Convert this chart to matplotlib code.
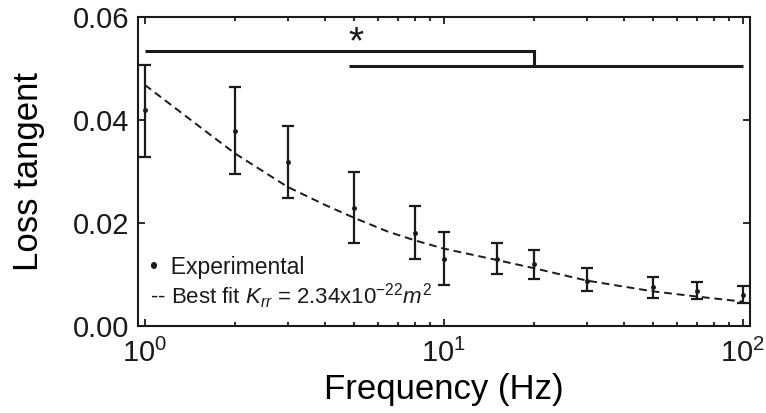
import numpy as np
import matplotlib
import matplotlib.pyplot as plt
from matplotlib.ticker import LogLocator, FixedLocator, NullFormatter

matplotlib.use("Agg")

plt.rcParams["font.family"] = ["Liberation Sans", "DejaVu Sans"]
plt.rcParams["mathtext.fontset"] = "custom"
plt.rcParams["mathtext.rm"] = "Liberation Sans"
plt.rcParams["mathtext.it"] = "Liberation Sans:italic"

# measured points
freq = [1, 2, 3, 5, 8, 10, 15, 20, 30, 50, 70, 100]
loss = [0.0419, 0.0379, 0.0318, 0.0229, 0.0181, 0.0130, 0.0130, 0.0120, 0.0087, 0.0076, 0.0068, 0.0060]
err_hi = [0.0507, 0.0464, 0.0388, 0.0299, 0.0233, 0.0183, 0.0161, 0.0148, 0.0113, 0.0095, 0.0085, 0.0078]
err_lo = [0.0328, 0.0295, 0.0249, 0.0161, 0.0130, 0.0080, 0.0101, 0.0091, 0.0068, 0.0054, 0.0052, 0.0045]

# best fit curve
fit_freq = [1, 1.5, 2, 3, 4, 5, 6.5, 8, 10, 15, 20, 30, 50, 70, 100]
fit_loss = [0.0468, 0.0390, 0.0335, 0.0270, 0.0235, 0.0210, 0.0183, 0.0166, 0.0150, 0.0128, 0.0112, 0.0088, 0.0067, 0.0057, 0.0047]

# significance brackets
bar1_x = [1, 20]
bar1_y = 0.0533
bar2_x = [4.8, 100]
bar2_y = 0.0504
star_x = 5.1
star_y = 0.0548

fig = plt.figure(figsize=(7.66, 4.13), dpi=100)
ax = fig.add_axes([0.180, 0.211, 0.799, 0.748])

loss_a = np.array(loss)
yerr = [loss_a - np.array(err_lo), np.array(err_hi) - loss_a]
ax.errorbar(freq, loss, yerr=yerr, fmt="o", color="#1a1a1a", ms=2.5,
            elinewidth=1.6, capsize=4.5, capthick=1.6)
ax.plot(fit_freq, fit_loss, color="#1a1a1a", lw=1.4, ls=(0, (4, 2.5)))

ax.plot(bar1_x, [bar1_y, bar1_y], color="#1a1a1a", lw=2.2, solid_capstyle="butt")
ax.plot([bar1_x[1], bar1_x[1]], [bar1_y, bar2_y], color="#1a1a1a", lw=2.2)
ax.plot(bar2_x, [bar2_y, bar2_y], color="#1a1a1a", lw=2.2, solid_capstyle="butt")
ax.text(star_x, star_y, "*", fontsize=28, ha="center", va="center", color="#1a1a1a")

ax.set_xscale("log")
ax.set_xlim(0.948, 105.5)
ax.set_ylim(0, 0.06)
ax.set_yticks([0.00, 0.02, 0.04, 0.06])
ax.set_yticklabels(["0.00", "0.02", "0.04", "0.06"])
ax.xaxis.set_major_locator(FixedLocator([1, 10, 100]))
ax.set_xticklabels(["$10^0$", "$10^1$", "$10^2$"])
ax.xaxis.set_minor_locator(LogLocator(base=10, subs=np.arange(2, 10)))
ax.xaxis.set_minor_formatter(NullFormatter())

ax.tick_params(axis="both", which="both", direction="in", top=True, right=True,
               labelsize=21, width=1.3, colors="#1a1a1a")
ax.tick_params(which="major", length=5)
ax.tick_params(which="minor", length=3)
ax.tick_params(axis="x", pad=9)
ax.tick_params(axis="y", pad=6)
for s in ax.spines.values():
    s.set_linewidth(1.5)
    s.set_color("#1a1a1a")

ax.set_xlabel("Frequency (Hz)", fontsize=25, labelpad=4)
ax.set_ylabel("Loss tangent", fontsize=25, labelpad=20)

ax.text(0.02, 0.19, "\u2022  Experimental", transform=ax.transAxes, fontsize=16.5,
        va="center", color="#1a1a1a")
ax.text(0.02, 0.095, r"-- Best fit $K_{rr}$ = 2.34x10$^{-22}$$m^2$", transform=ax.transAxes,
        fontsize=16, va="center", color="#1a1a1a")

fig.savefig("out.png", dpi=100)
